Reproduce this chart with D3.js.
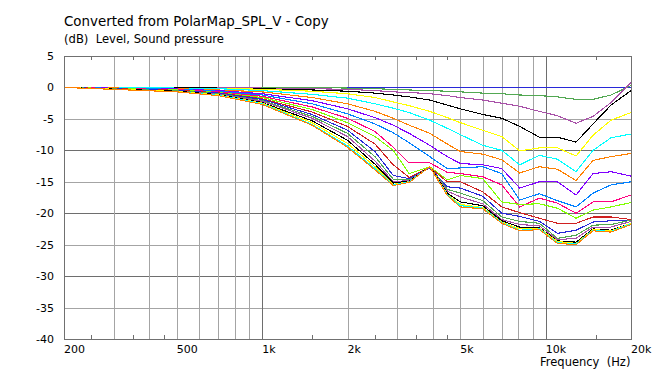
<!DOCTYPE html>
<html>
<head>
<meta charset="utf-8">
<script src="https://cdn.jsdelivr.net/npm/d3@7"></script>
<style>
  html, body { margin: 0; padding: 0; background: #fff; }
  svg { display: block; font-family: "DejaVu Sans", Verdana, sans-serif; }
  text { fill: #000; white-space: pre; }
</style>
</head>
<body>
<div class="viz"></div>
<script>
// Frequencies (Hz) at which the curves were read
const freqs = [200, 500, 700, 1000, 1500, 2000, 2500, 2900, 3300, 3900, 4500, 5000, 6000, 7000, 8100, 9500, 11000, 12800, 14700, 17000, 20000];

// Level (dB) per angle, normalised to on-axis
const deg0 = [0, 0, 0, 0, 0, 0, 0, 0, 0, 0, 0, 0, 0, 0, 0, 0, 0, 0, 0, 0, 0];
const deg5 = [0, 0, 0, 0, 0, -0.1, -0.2, -0.3, -0.4, -0.5, -0.6, -0.7, -0.9, -1.0, -1.2, -1.3, -1.5, -1.9, -1.9, -1.2, 0.3];
const deg10 = [0, 0, 0, -0.1, -0.2, -0.3, -0.5, -0.7, -0.8, -1.0, -1.3, -1.6, -2.0, -2.5, -3.0, -3.8, -4.5, -5.7, -4.6, -2.4, 0.8];
const deg15 = [0, 0, -0.1, -0.2, -0.4, -0.6, -0.9, -1.2, -1.5, -2.0, -2.8, -3.4, -4.3, -4.9, -6.2, -7.9, -7.9, -8.7, -5.8, -2.8, -0.5];
const deg20 = [0, -0.1, -0.1, -0.3, -0.6, -1.0, -1.6, -2.3, -2.9, -3.8, -4.8, -5.6, -6.8, -7.8, -10.1, -9.6, -9.6, -10.9, -7.6, -5.2, -4.0];
const deg25 = [0, -0.1, -0.2, -0.5, -1.1, -1.7, -2.6, -3.3, -4.0, -5.2, -6.5, -7.5, -9.2, -10.0, -12.3, -10.8, -11.4, -13.4, -10.0, -8.0, -7.4];
const deg30 = [0, -0.2, -0.4, -0.7, -1.6, -2.6, -3.8, -4.9, -6.0, -7.3, -9.0, -10.2, -10.6, -11.5, -13.6, -12.6, -13.0, -14.8, -11.6, -11.0, -10.5];
const deg35 = [0, -0.25, -0.5, -1.0, -2.1, -3.4, -4.8, -6.0, -7.3, -9.2, -11.0, -12.1, -12.3, -12.9, -16.0, -15.0, -15.0, -17.1, -13.7, -13.4, -14.1];
const deg40 = [0, -0.3, -0.6, -1.2, -2.6, -4.2, -5.8, -7.2, -8.8, -11.0, -12.9, -12.8, -12.6, -13.7, -17.9, -16.9, -18.0, -19.0, -16.8, -15.5, -15.0];
const deg45 = [0, -0.35, -0.7, -1.4, -3.1, -4.9, -7.0, -9.5, -12.0, -12.0, -13.5, -13.7, -14.2, -15.5, -19.0, -17.6, -18.4, -20.0, -18.2, -18.2, -17.1];
const deg50 = [0, -0.4, -0.8, -1.6, -3.5, -5.6, -7.8, -10.0, -13.7, -12.6, -14.7, -14.0, -14.5, -18.2, -18.6, -18.5, -19.2, -20.8, -19.5, -19.0, -18.3];
const deg55 = [0, -0.45, -0.85, -1.8, -3.9, -6.2, -9.0, -12.3, -14.3, -12.7, -15.0, -15.0, -16.6, -19.0, -19.9, -20.8, -21.6, -21.6, -20.6, -20.6, -21.0];
const deg60 = [0, -0.5, -0.9, -1.9, -4.3, -6.8, -10.2, -14.0, -14.5, -12.8, -15.8, -16.0, -17.3, -20.0, -20.5, -21.3, -23.2, -22.7, -21.4, -21.2, -21.1];
const deg65 = [0, -0.55, -1.0, -2.1, -4.6, -7.3, -11.0, -14.6, -14.7, -12.7, -16.2, -16.8, -18.0, -20.6, -21.3, -21.6, -24.0, -23.5, -21.9, -21.8, -21.1];
const deg70 = [0, -0.6, -1.1, -2.2, -4.9, -7.8, -11.7, -15.0, -14.8, -12.7, -16.5, -17.4, -18.5, -21.0, -21.8, -22.0, -24.2, -24.0, -22.2, -22.2, -21.3];
const deg75 = [0, -0.6, -1.15, -2.4, -5.3, -8.4, -12.2, -15.2, -14.9, -12.6, -16.8, -18.2, -18.8, -21.2, -22.2, -22.3, -24.4, -24.6, -22.5, -22.7, -21.6];
const deg80 = [0, -0.65, -1.2, -2.5, -5.6, -8.9, -12.6, -15.4, -15.0, -12.6, -17.0, -18.6, -19.1, -21.4, -22.5, -22.4, -24.5, -24.8, -22.6, -22.8, -21.6];
const deg85 = [0, -0.7, -1.25, -2.6, -5.9, -9.3, -12.9, -15.5, -15.0, -12.6, -17.1, -18.8, -19.2, -21.5, -22.7, -22.5, -24.7, -24.9, -22.7, -22.9, -21.7];
const deg90 = [0, -0.7, -1.3, -2.7, -6.0, -9.5, -13.1, -15.6, -15.1, -12.6, -17.2, -19.0, -19.3, -21.6, -22.8, -22.6, -24.8, -25.0, -22.8, -23.0, -21.8];

const series = [deg0, deg5, deg10, deg15, deg20, deg25, deg30, deg35, deg40, deg45,
  deg50, deg55, deg60, deg65, deg70, deg75, deg80, deg85, deg90];

// Line colours, cycling like the original plot
const palette = ["#2828d8", "#52a852", "#a850a8", "#000000", "#ffff00", "#00ffff",
  "#ff8000", "#8000ff", "#0080ff", "#ff0080", "#80ff00", "#d02020"];

// Axis ticks
const xLabelValues = [200, 500, 1000, 2000, 5000, 10000, 20000];
const xLabels = ["200", "500", "1k", "2k", "5k", "10k", "20k"];
const xGrid = [300, 400, 500, 600, 700, 800, 900, 1000, 2000, 3000, 4000, 5000, 6000, 7000, 8000, 9000, 10000];
const xMinor = [250, 350, 450, 1500, 2500, 3500, 4500, 15000];
const yTicks = [5, 0, -5, -10, -15, -20, -25, -30, -35, -40];

const totalWidth = 654;
const totalHeight = 374;
const margin = { top: 56, right: 23, bottom: 35, left: 64 };
const width = totalWidth - margin.left - margin.right;
const height = totalHeight - margin.top - margin.bottom;

const svg = d3
  .select(".viz")
  .append("svg")
  .attr("width", totalWidth)
  .attr("height", totalHeight);

const g = svg
  .append("g")
  .attr("transform", `translate(${margin.left},${margin.top})`);

// Scales
const xScale = d3.scaleLog().domain([200, 20000]).range([0, width]);
const yScale = d3.scaleLinear().domain([-40, 5]).range([height, 0]);

const lightGrid = "#a4a4a4";
const darkGrid = "#6e6e6e";

// Horizontal grid
g.selectAll(".ygrid")
  .data(yTicks.filter((v) => v > -40 && v < 5))
  .enter()
  .append("line")
  .attr("x1", 0)
  .attr("x2", width)
  .attr("y1", (d) => Math.round(yScale(d)) + 0.5)
  .attr("y2", (d) => Math.round(yScale(d)) + 0.5)
  .attr("stroke", (d) => (d % 10 === 0 ? darkGrid : lightGrid))
  .attr("stroke-width", 1);

// Vertical grid
g.selectAll(".xgrid")
  .data(xGrid)
  .enter()
  .append("line")
  .attr("x1", (d) => Math.round(xScale(d)) + 0.5)
  .attr("x2", (d) => Math.round(xScale(d)) + 0.5)
  .attr("y1", 0)
  .attr("y2", height)
  .attr("stroke", (d) => (d === 1000 || d === 10000 ? darkGrid : lightGrid))
  .attr("stroke-width", 1);

// Small ticks on top and bottom edges
xMinor.forEach((f) => {
  const x = Math.round(xScale(f)) + 0.5;
  g.append("line")
    .attr("x1", x).attr("x2", x)
    .attr("y1", 0).attr("y2", 4)
    .attr("stroke", darkGrid);
  g.append("line")
    .attr("x1", x).attr("x2", x)
    .attr("y1", height - 4).attr("y2", height)
    .attr("stroke", darkGrid);
});

// Curves
const line = d3
  .line()
  .x((d, i) => xScale(freqs[i]))
  .y((d) => yScale(d));

g.selectAll(".curve")
  .data(series)
  .enter()
  .append("path")
  .attr("d", (d) => line(d))
  .attr("fill", "none")
  .attr("stroke", (d, i) => palette[i % palette.length])
  .attr("stroke-width", 1.1)
  .style("shape-rendering", "crispEdges");

// Frame
g.append("rect")
  .attr("x", 0.5)
  .attr("y", 0.5)
  .attr("width", width)
  .attr("height", height)
  .attr("fill", "none")
  .attr("stroke", "#707070")
  .attr("stroke-width", 1);

// Y tick labels
g.selectAll(".ylabel")
  .data(yTicks)
  .enter()
  .append("text")
  .attr("x", -10)
  .attr("y", (d) => yScale(d))
  .attr("dy", "0.36em")
  .attr("text-anchor", "end")
  .style("font-size", "11px")
  .text((d) => d);

// X tick labels
g.selectAll(".xlabel")
  .data(xLabelValues)
  .enter()
  .append("text")
  .attr("x", (d) => xScale(d))
  .attr("y", height + 14)
  .attr("text-anchor", "start")
  .style("font-size", "11px")
  .text((d, i) => xLabels[i]);

// Axis title
svg.append("text")
  .attr("x", 540)
  .attr("y", 366)
  .style("font-size", "11.5px")
  .text("Frequency  (Hz)");

// Titles
svg.append("text")
  .attr("x", 64)
  .attr("y", 26)
  .style("font-size", "13.4px")
  .text("Converted from PolarMap_SPL_V - Copy");

svg.append("text")
  .attr("x", 64)
  .attr("y", 43)
  .style("font-size", "11.6px")
  .text("(dB)  Level, Sound pressure");
</script>
</body>
</html>
